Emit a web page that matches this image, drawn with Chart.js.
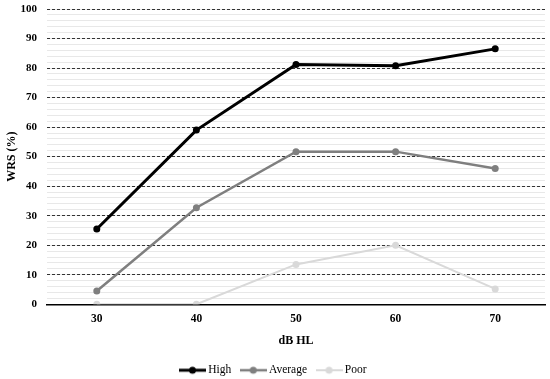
<!DOCTYPE html>
<html>
<head>
<meta charset="utf-8">
<script src="https://cdn.jsdelivr.net/npm/chart.js@4/dist/chart.umd.min.js"></script>
<style>
html,body{margin:0;padding:0;background:#fff;}
#wrap{width:550px;height:379px;}
</style>
</head>
<body>
<div id="wrap"><canvas id="c" width="550" height="379"></canvas></div>
<script>
const categories = ['30', '40', '50', '60', '70'];
const highValues = [25.5, 59, 81.2, 80.8, 86.5];
const averageValues = [4.5, 32.7, 51.7, 51.7, 46];
const poorValues = [0, 0, 13.5, 20, 5.2];
const seriesNames = ['High', 'Average', 'Poor'];
const seriesColors = ['#000000', '#7f7f7f', '#d9d9d9'];
const yTitle = 'WRS (%)';
const xTitle = 'dB HL';

function legendMarker(color, lw) {
  const c = document.createElement('canvas');
  c.width = 27; c.height = 10;
  const g = c.getContext('2d');
  g.strokeStyle = color; g.lineWidth = lw;
  g.beginPath(); g.moveTo(0, 5); g.lineTo(27, 5); g.stroke();
  g.fillStyle = color;
  g.beginPath(); g.arc(13.5, 5, 3.5, 0, Math.PI * 2); g.fill();
  return c;
}

const font = 'Liberation Serif, Times New Roman, serif';
const values = [highValues, averageValues, poorValues];
const widths = [3, 2.5, 2];

new Chart(document.getElementById('c'), {
  type: 'line',
  data: {
    labels: categories,
    datasets: values.map((v, i) => ({
      label: seriesNames[i],
      data: v,
      borderColor: seriesColors[i],
      backgroundColor: seriesColors[i],
      borderWidth: widths[i],
      pointRadius: 3.5,
      pointHoverRadius: 3.5,
      pointBorderWidth: 0,
      pointStyle: 'circle',
      tension: 0,
      order: 3 - i
    }))
  },
  options: {
    responsive: false,
    animation: false,
    devicePixelRatio: 1,
    layout: { padding: { top: 9, right: 5, left: 4, bottom: -7 } },
    plugins: {
      tooltip: { enabled: false },
      legend: {
        position: 'bottom',
        labels: {
          usePointStyle: true,
          pointStyleWidth: 20,
          padding: 12,
          color: '#000',
          font: { family: font, size: 11.5 },
          generateLabels: (chart) => chart.data.datasets.map((ds, i) => ({
            text: ds.label,
            pointStyle: legendMarker(seriesColors[i], widths[i]),
            fillStyle: seriesColors[i],
            strokeStyle: seriesColors[i],
            lineWidth: 0,
            hidden: false,
            datasetIndex: i,
            fontColor: '#000'
          }))
        }
      }
    },
    scales: {
      x: {
        offset: true,
        grid: { display: false, drawTicks: false },
        border: { display: true, color: '#000', width: 1.5 },
        ticks: { color: '#000', padding: 8, font: { family: font, size: 11.5, weight: 'bold' } },
        title: { display: true, text: xTitle, color: '#000', padding: { top: 0, bottom: 4 }, font: { family: font, size: 12, weight: 'bold' } }
      },
      yMinor: {
        position: 'right',
        min: 0, max: 100,
        ticks: { display: false, stepSize: 2 },
        grid: { color: '#e8e8e8', lineWidth: 1, drawTicks: false },
        border: { display: false },
        afterFit: (s) => { s.width = 0; s.paddingTop = 0; s.paddingBottom = 0; }
      },
      y: {
        position: 'left',
        min: 0, max: 100,
        ticks: { stepSize: 10, color: '#000', padding: 10, font: { family: font, size: 11, weight: 'bold' } },
        grid: { color: '#333', lineWidth: 1, drawTicks: false },
        border: { display: false, dash: [3, 2] },
        title: { display: true, text: yTitle, color: '#000', padding: { top: 1, bottom: 2 }, font: { family: font, size: 12, weight: 'bold' } },
        afterFit: (s) => { s.width = 43; s.paddingTop = 0; s.paddingBottom = 0; }
      }
    }
  }
});
</script>
</body>
</html>
